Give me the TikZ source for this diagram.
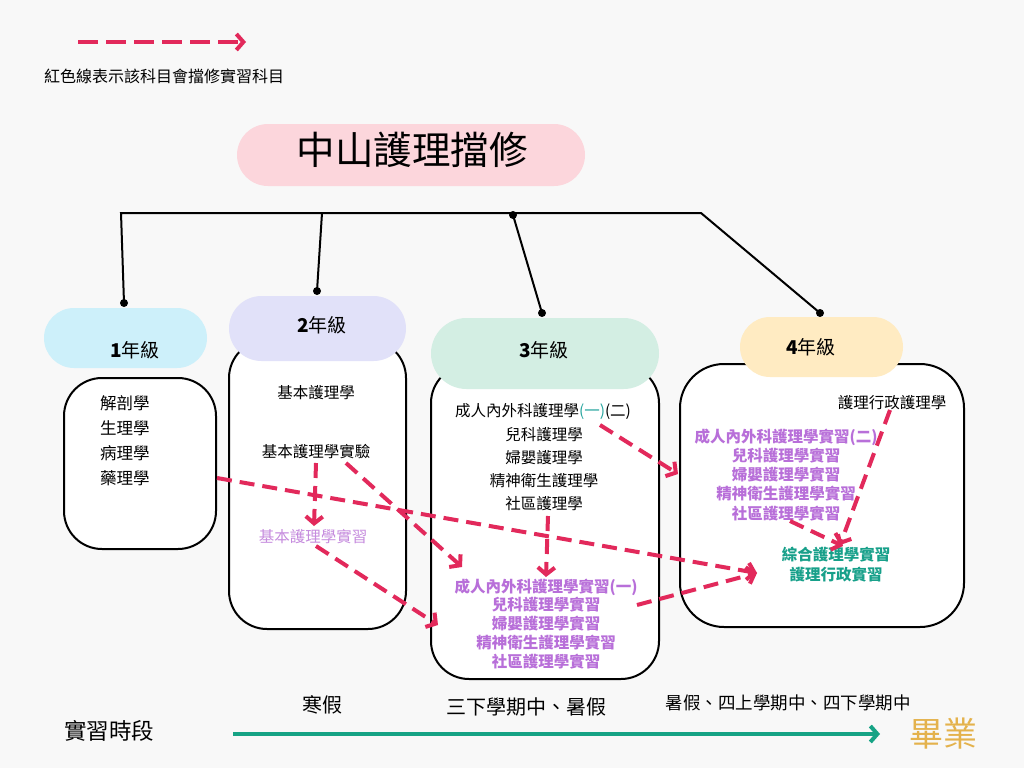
\documentclass[tikz,border=0pt]{standalone}
\usepackage{fontspec}
\setmainfont{Noto Sans CJK TC}
\usetikzlibrary{arrows.meta}
\definecolor{bg}{HTML}{F8F8F8}
\definecolor{redl}{HTML}{E2295B}
\definecolor{purp}{HTML}{B86FD9}
\definecolor{purpl}{HTML}{C68CDE}
\definecolor{tealt}{HTML}{17A08A}
\definecolor{tealp}{HTML}{2AA7A0}
\definecolor{tealline}{HTML}{16A385}
\definecolor{gold}{HTML}{E4B24C}
\definecolor{pinkf}{HTML}{FCD6DC}
\definecolor{cyanf}{HTML}{CDF0FA}
\definecolor{lavf}{HTML}{E1E1F9}
\definecolor{mintf}{HTML}{D3EEE3}
\definecolor{creamf}{HTML}{FFEBC2}
\tikzset{
  pill/.style={draw=none, inner sep=0pt},
  boxr/.style={draw=black, line width=2pt, fill=white, inner sep=0pt, rounded corners=38pt},
  txt/.style={inner sep=1pt, font=\fontsize{15.5}{18}\selectfont},
  ptxt/.style={inner sep=1pt, font=\fontsize{15.5}{18}\selectfont\bfseries, text=purp},
  ttxt/.style={inner sep=1pt, font=\fontsize{15.5}{18}\selectfont\bfseries, text=tealt},
  grade/.style={inner sep=1pt, font=\fontsize{19}{22}\selectfont},
  tree/.style={line width=2pt, black},
  dotc/.style={fill=black, draw=none},
  redarrow/.style={draw=redl, line width=4pt, dash pattern=on 15pt off 8pt, -{Straight Barb[length=7pt,width=17pt]}},
}
\begin{document}
\begin{tikzpicture}[x=1pt,y=-1pt]
\useasboundingbox (0,0) rectangle (1024,768);
\fill[bg] (0,0) rectangle (1024,768);

% legend
\coordinate (lg1) at (78,42);
\coordinate (lg2) at (246,42);
\draw[draw=redl, line width=4pt, dash pattern=on 20pt off 8pt, -{Straight Barb[length=7pt,width=16pt]}] (lg1) -- (lg2);
\node[inner sep=1pt, font=\fontsize{16}{18}\selectfont] (lgt) at (164,76) {紅色線表示該科目會擋修實習科目};

% title
\node[pill, fill=pinkf, minimum width=348pt, minimum height=62pt, rounded corners=31pt] (title) at (411,155) {};
\node[inner sep=0pt, font=\fontsize{38.5}{40}\selectfont] (titlet) at (412,150) {中山護理擋修};

% tree
\coordinate (c1) at (121,213);
\coordinate (c2) at (322,213);
\coordinate (c3) at (513,215);
\coordinate (c4) at (701,213);
\coordinate (d1) at (124,303);
\coordinate (d2) at (317,291);
\coordinate (d3) at (542,313);
\coordinate (d4) at (820,313);
\draw[tree] (d1) -- (c1) -- (c4) -- (d4);
\draw[tree] (c2) -- (d2);
\draw[tree] (c3) -- (d3);
\foreach \p in {d1,d2,c3,d3,d4} \fill[dotc] (\p) circle (4pt);

% boxes
\node[boxr, minimum width=152pt, minimum height=171pt] (b1) at (140,463.5) {};
\node[boxr, minimum width=177pt, minimum height=289pt] (b2) at (317.5,484.5) {};
\node[boxr, minimum width=228pt, minimum height=314pt] (b3) at (545,522) {};
\node[boxr, minimum width=284pt, minimum height=263pt, rounded corners=44pt] (b4) at (822,495.5) {};

% pills
\node[pill, fill=cyanf, minimum width=163pt, minimum height=60pt, rounded corners=30pt] (p1) at (125.5,338) {};
\node[pill, fill=lavf, minimum width=177pt, minimum height=65pt, rounded corners=32.5pt] (p2) at (317.5,328.5) {};
\node[pill, fill=mintf, minimum width=228pt, minimum height=71pt, rounded corners=35.5pt] (p3) at (545,353.5) {};
\node[pill, fill=creamf, minimum width=163pt, minimum height=60pt, rounded corners=30pt] (p4) at (821.5,347) {};
\node[grade] (g1) at (135,350) {\textbf{1}年級};
\node[grade] (g2) at (322,325) {\textbf{2}年級};
\node[grade] (g3) at (544,350) {\textbf{3}年級};
\node[grade] (g4) at (811,347) {\textbf{4}年級};

% box1 texts
\node[txt, anchor=west, font=\fontsize{16.5}{18}\selectfont] (y1a) at (99,403) {解剖學};
\node[txt, anchor=west, font=\fontsize{16.5}{18}\selectfont] (y1b) at (99,428) {生理學};
\node[txt, anchor=west, font=\fontsize{16.5}{18}\selectfont] (y1c) at (99,453) {病理學};
\node[txt, anchor=west, font=\fontsize{16.5}{18}\selectfont] (y1d) at (99,478) {藥理學};

% box2 texts
\node[txt] (y2a) at (316,393) {基本護理學};
\node[txt] (y2b) at (316,452) {基本護理學實驗};
\node[txt, text=purpl] (y2c) at (313,537) {基本護理學實習};

% box3 texts
\node[txt] (y3a) at (543,411) {成人內外科護理學\textcolor{tealp}{(一)}(二)};
\node[txt] (y3b) at (544,435) {兒科護理學};
\node[txt] (y3c) at (544,458) {婦嬰護理學};
\node[txt] (y3d) at (544,481) {精神衛生護理學};
\node[txt] (y3e) at (544,504) {社區護理學};
\node[ptxt] (q3a) at (546,587) {成人內外科護理學實習(一)};
\node[ptxt] (q3b) at (546,605) {兒科護理學實習};
\node[ptxt] (q3c) at (546,624) {婦嬰護理學實習};
\node[ptxt] (q3d) at (546,643) {精神衛生護理學實習};
\node[ptxt] (q3e) at (546,662) {社區護理學實習};

% box4 texts
\node[txt] (y4a) at (892,403) {護理行政護理學};
\node[ptxt] (q4a) at (786,437) {成人內外科護理學實習(二)};
\node[ptxt] (q4b) at (786,456) {兒科護理學實習};
\node[ptxt] (q4c) at (786,475) {婦嬰護理學實習};
\node[ptxt] (q4d) at (786,494) {精神衛生護理學實習};
\node[ptxt] (q4e) at (786,514) {社區護理學實習};
\node[ttxt] (z4a) at (836,555) {綜合護理學實習};
\node[ttxt] (z4b) at (836,575) {護理行政實習};

% red arrows
\coordinate (a1s) at (217,478);
\coordinate (tgt) at (757,573);
\coordinate (a2s) at (316,463);
\coordinate (a2e) at (314,526);
\coordinate (a3s) at (346,463);
\coordinate (a3e) at (462,567);
\coordinate (a4s) at (316,546);
\coordinate (a4e) at (438,625);
\coordinate (a5s) at (548,516);
\coordinate (a5e) at (546,577);
\coordinate (a6s) at (600,425);
\coordinate (a6e) at (678,474);
\coordinate (a7s) at (637,605);
\coordinate (a8s) at (790,521);
\coordinate (a8e) at (843,546);
\coordinate (a9s) at (890,410);
\coordinate (a9e) at (840,545);
\draw[redarrow] (a1s) -- (tgt);
\draw[redarrow] (a2s) -- (a2e);
\draw[redarrow] (a3s) -- (a3e);
\draw[redarrow] (a4s) -- (a4e);
\draw[redarrow] (a5s) -- (a5e);
\draw[redarrow] (a6s) -- (a6e);
\draw[redarrow] (a7s) -- (tgt);
\draw[redarrow] (a8s) -- (a8e);
\draw[redarrow] (a9s) -- (a9e);

% timeline
\node[inner sep=1pt, font=\fontsize{22.5}{24}\selectfont] (tl) at (109,731) {實習時段};
\coordinate (tls) at (233,734);
\coordinate (tle) at (880,734);
\draw[tealline, line width=4pt, -{Straight Barb[length=7pt,width=16pt]}] (tls) -- (tle);
\node[inner sep=1pt, font=\fontsize{34}{36}\selectfont, text=gold] (grad) at (943,734) {畢業};
\node[inner sep=1pt, font=\fontsize{20}{22}\selectfont] (h1) at (322,705) {寒假};
\node[inner sep=1pt, font=\fontsize{20}{22}\selectfont] (h2) at (526,707) {三下學期中、暑假};
\node[inner sep=1pt, font=\fontsize{17.5}{20}\selectfont] (h3) at (788,703) {暑假、四上學期中、四下學期中};
\end{tikzpicture}
\end{document}
